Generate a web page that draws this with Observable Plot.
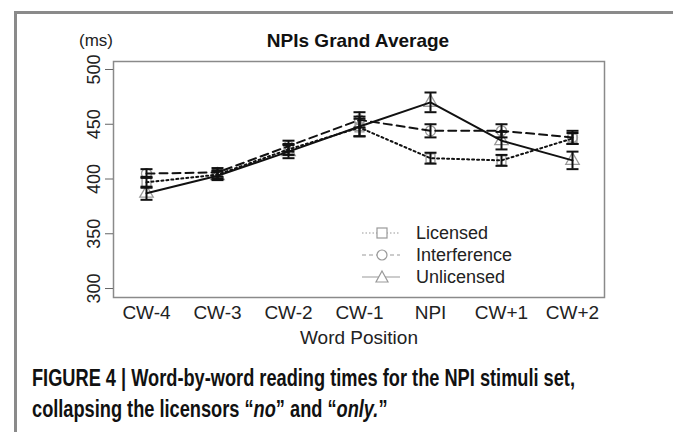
<!DOCTYPE html>
<html>
<head>
<meta charset="utf-8">
<script src="https://cdn.jsdelivr.net/npm/d3@7"></script>
<script src="https://cdn.jsdelivr.net/npm/@observablehq/plot@0.6"></script>
<style>
  html, body { margin: 0; padding: 0; background: #fff; }
  #wrap { position: relative; width: 673px; height: 432px; overflow: hidden; font-family: "Liberation Sans", Arial, sans-serif; }
  #border { position: absolute; left: 14px; top: 11px; width: 658px; height: 440px; border-left: 3px solid #8a8a8a; border-top: 3px solid #8a8a8a; border-right: 2px solid #444; }
  #chart { position: absolute; left: 0; top: 0; }
  .title { position: absolute; top: 30px; left: 258px; width: 200px; text-align: center; font-weight: bold; font-size: 19px; color: #111; }
  .ms { position: absolute; top: 31px; left: 79px; font-size: 17px; color: #222; }
  .legend { position: absolute; left: 360px; top: 222px; font-size: 18px; color: #222; }
  .legend div { display: flex; align-items: center; height: 22px; }
  .legend svg { margin-right: 16px; }
  .cap { position: absolute; left: 32px; white-space: nowrap; font-family: "Liberation Sans", Arial, sans-serif; font-weight: bold; font-size: 23px; color: #111; transform-origin: 0 0; }
</style>
</head>
<body>
<div id="wrap">
  <div id="border"></div>
  <div id="chart"></div>
  <div class="ms">(ms)</div>
  <div class="title">NPIs Grand Average</div>
  <div class="legend" id="legend"></div>
  <div class="cap" id="cap1" style="top:365px">FIGURE 4 | Word-by-word reading times for the NPI stimuli set,</div>
  <div class="cap" id="cap2" style="top:396px">collapsing the licensors “<i>no</i>” and “<i>only.</i>”</div>
</div>
<script>
const positions = ["CW-4", "CW-3", "CW-2", "CW-1", "NPI", "CW+1", "CW+2"];
const seriesNames = ["Licensed", "Interference", "Unlicensed"];
const licensed = [397, 404, 427, 447, 419, 417, 437];
const interference = [405, 406, 430, 454, 444, 444, 438];
const unlicensed = [387, 403, 425, 448, 470, 435, 417];
const licensedErr = [5, 4, 5, 8, 5, 5, 5];
const interferenceErr = [4, 4, 5, 7, 6, 6, 6];
const unlicensedErr = [6, 4, 6, 9, 9, 8, 8];
const yTicks = [300, 350, 400, 450, 500];

const styles = {
  Licensed: { dash: "2,3", symbol: "square" },
  Interference: { dash: "8,5", symbol: "circle" },
  Unlicensed: { dash: null, symbol: "triangle" }
};

const values = { Licensed: licensed, Interference: interference, Unlicensed: unlicensed };
const errs = { Licensed: licensedErr, Interference: interferenceErr, Unlicensed: unlicensedErr };
const rows = seriesNames.flatMap(s => positions.map((p, i) => ({
  series: s, pos: p, value: values[s][i], lo: values[s][i] - errs[s][i], hi: values[s][i] + errs[s][i]
})));

const capSymbol = { draw(ctx, size) { const w = Math.sqrt(size / Math.PI); ctx.moveTo(-w, 0); ctx.lineTo(w, 0); } };

const marks = [Plot.frame({ stroke: "#8a8a8a", strokeWidth: 1.5 })];
for (const s of seriesNames) {
  const d = rows.filter(r => r.series === s);
  marks.push(Plot.dot(d, { x: "pos", y: "value", symbol: () => styles[s].symbol, r: 5, stroke: "#999", strokeWidth: 1.3, fill: "none" }));
}
for (const s of seriesNames) {
  const d = rows.filter(r => r.series === s);
  marks.push(Plot.line(d, { x: "pos", y: "value", stroke: "#111", strokeWidth: 2, strokeDasharray: styles[s].dash }));
  marks.push(Plot.ruleX(d, { x: "pos", y1: "lo", y2: "hi", stroke: "#111", strokeWidth: 2 }));
  marks.push(Plot.dot(d, { x: "pos", y: "lo", symbol: capSymbol, r: 6, stroke: "#111", strokeWidth: 2 }));
  marks.push(Plot.dot(d, { x: "pos", y: "hi", symbol: capSymbol, r: 6, stroke: "#111", strokeWidth: 2 }));
}
marks.push(Plot.axisY({ ticks: yTicks, tickSize: 8, tickRotate: -90, tickPadding: 6, textAnchor: "middle", lineAnchor: "bottom", fontSize: 18, stroke: "#666", color: "#222", label: null }));
marks.push(Plot.axisX({ tickSize: 0, tickPadding: 8, fontSize: 19, color: "#222", label: "Word Position", labelAnchor: "center", labelArrow: "none", labelOffset: 46 }));

const chart = Plot.plot({
  width: 673,
  height: 352,
  marginLeft: 113,
  marginRight: 69,
  marginTop: 61,
  marginBottom: 55,
  style: { fontFamily: "'Liberation Sans', Arial, sans-serif", background: "transparent", overflow: "visible" },
  x: { type: "point", domain: positions, padding: 0.42 },
  y: { domain: [291.8, 507.3] },
  marks
});
document.getElementById("chart").appendChild(chart);

// legend
const legend = document.getElementById("legend");
for (const s of seriesNames) {
  const row = document.createElement("div");
  const sym = styles[s].symbol;
  const symEl = sym === "square" ? '<rect x="17" y="6" width="10" height="10" fill="white" stroke="#999" stroke-width="1.2"/>'
    : sym === "circle" ? '<circle cx="22" cy="11" r="5" fill="white" stroke="#999" stroke-width="1.2"/>'
    : '<path d="M22,5 L28,16 L16,16 Z" fill="white" stroke="#999" stroke-width="1.2"/>';
  row.innerHTML = `<svg width="40" height="22"><line x1="2" x2="40" y1="11" y2="11" stroke="#999" stroke-width="1.2" ${styles[s].dash ? `stroke-dasharray="${s === "Licensed" ? "1.5,2" : "4,3"}"` : ""}/>${symEl}</svg><span>${s}</span>`;
  legend.appendChild(row);
}

// condensed caption: fit line 1 to the reference's width
const c1 = document.getElementById("cap1"), c2 = document.getElementById("cap2");
const k = 543 / c1.getBoundingClientRect().width;
c1.style.transform = `scaleX(${k})`;
c2.style.transform = `scaleX(${k})`;
</script>
</body>
</html>
